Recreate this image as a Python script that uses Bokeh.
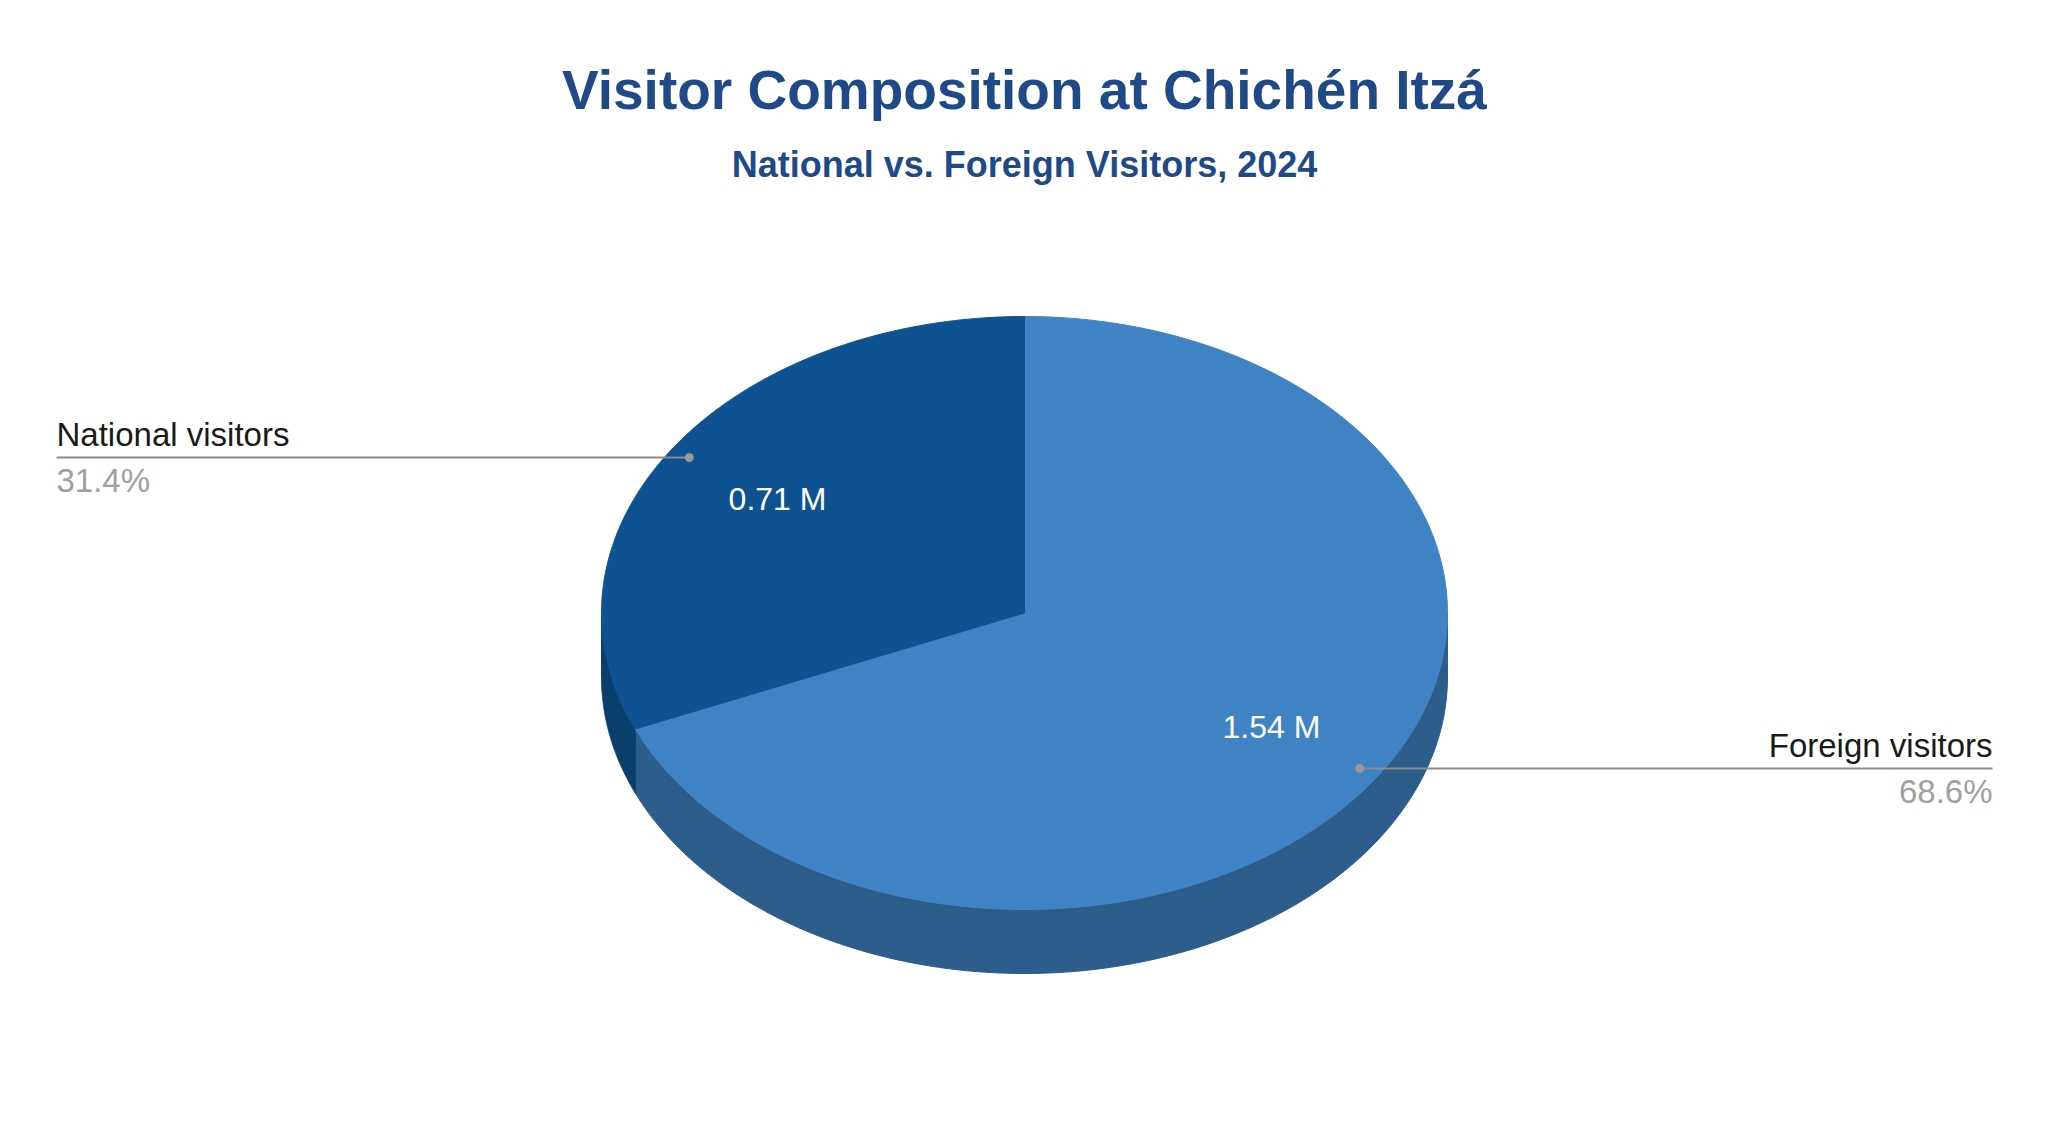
import numpy as np
from bokeh.plotting import figure
from bokeh.models import Range1d
from bokeh.core.properties import value
from bokeh.embed import file_html
from bokeh.resources import INLINE

# ---- data ----
categories = ["National visitors", "Foreign visitors"]
visitors_m = [0.71, 1.54]
share_pct = [31.4, 68.6]
value_labels = ["0.71 M", "1.54 M"]
pct_labels = ["31.4%", "68.6%"]
title_text = "Visitor Composition at Chichén Itzá"
subtitle_text = "National vs. Foreign Visitors, 2024"

# ---- styles / layout ----
top_colors = {"National visitors": "#0e5291", "Foreign visitors": "#3f83c4"}
side_colors = {"National visitors": "#0a3e6c", "Foreign visitors": "#2d5d8a"}
FONT = "Liberation Sans"
W, H = 2032, 1108
cx, cy = 1024, 612.5
rx, ry = 423, 296.5
depth = 64

p = figure(width=W, height=H, x_range=Range1d(0, W), y_range=Range1d(H, 0),
           output_backend="svg", toolbar_location=None, x_axis_type=None, y_axis_type=None,
           min_border=0)
p.grid.visible = False
p.outline_line_color = None
p.background_fill_color = "white"


def pt(theta_deg, r=1.0, dy=0.0):
    t = np.radians(theta_deg)
    return cx + rx * r * np.sin(t), cy - ry * r * np.cos(t) + dy


# angles: clockwise from 12 o'clock; Foreign starts at top going clockwise, National fills the rest
order = ["Foreign visitors", "National visitors"]
share_map = dict(zip(categories, share_pct))
starts, ends = {}, {}
acc = 0.0
for c in order:
    starts[c] = acc
    acc += share_map[c] / 100 * 360
    ends[c] = acc

# sides (visible front half: 90..270)
for c in order:
    a0 = max(starts[c], 90)
    a1 = min(ends[c], 270)
    if a1 <= a0:
        continue
    th = np.linspace(a0, a1, 200)
    xt, yt = pt(th)
    xb, yb = pt(th[::-1], dy=depth)
    p.patch(np.concatenate([xt, xb]), np.concatenate([yt, yb]),
            fill_color=side_colors[c], line_color=side_colors[c], line_width=1)

# top faces
for c in order:
    th = np.linspace(starts[c], ends[c], 400)
    xs, ys = pt(th)
    p.patch(np.concatenate([[cx], xs]), np.concatenate([[cy], ys]),
            fill_color=top_colors[c], line_color=top_colors[c], line_width=1)

# value labels inside slices
mids = {c: (starts[c] + ends[c]) / 2 for c in order}
vl = dict(zip(categories, value_labels))
for c in order:
    x, y = pt(mids[c], r=0.70)
    p.text(x=[x], y=[y], text=[vl[c]], text_color="white", text_font=value(FONT),
           text_font_size="32px", text_align="center", text_baseline="middle")

# outside labels with leader lines
pl = dict(zip(categories, pct_labels))
for c in order:
    dx, dyy = pt(mids[c], r=0.95)
    if dx < cx:
        x_end, align = 56, "left"
    else:
        x_end, align = 1992, "right"
    p.segment(x0=[dx], y0=[dyy], x1=[x_end], y1=[dyy], line_color="#8c8c8c", line_width=2)
    p.scatter(x=[dx], y=[dyy], size=8, color="#9a9a9a")
    p.text(x=[x_end], y=[dyy - 23], text=[c], text_color="#1a1a1a", text_font=value(FONT),
           text_font_size="33px", text_align=align, text_baseline="middle")
    p.text(x=[x_end], y=[dyy + 23], text=[pl[c]], text_color="#a0a0a0", text_font=value(FONT),
           text_font_size="33px", text_align=align, text_baseline="middle")

# titles
p.text(x=[1024], y=[89], text=[title_text], text_color="#1f4a87", text_font=value(FONT),
       text_font_size="55px", text_font_style="bold", text_align="center", text_baseline="middle")
p.text(x=[1024], y=[164], text=[subtitle_text], text_color="#1f4a87", text_font=value(FONT),
       text_font_size="36px", text_font_style="bold", text_align="center", text_baseline="middle")

open("out.html", "w").write(file_html(p, INLINE))
